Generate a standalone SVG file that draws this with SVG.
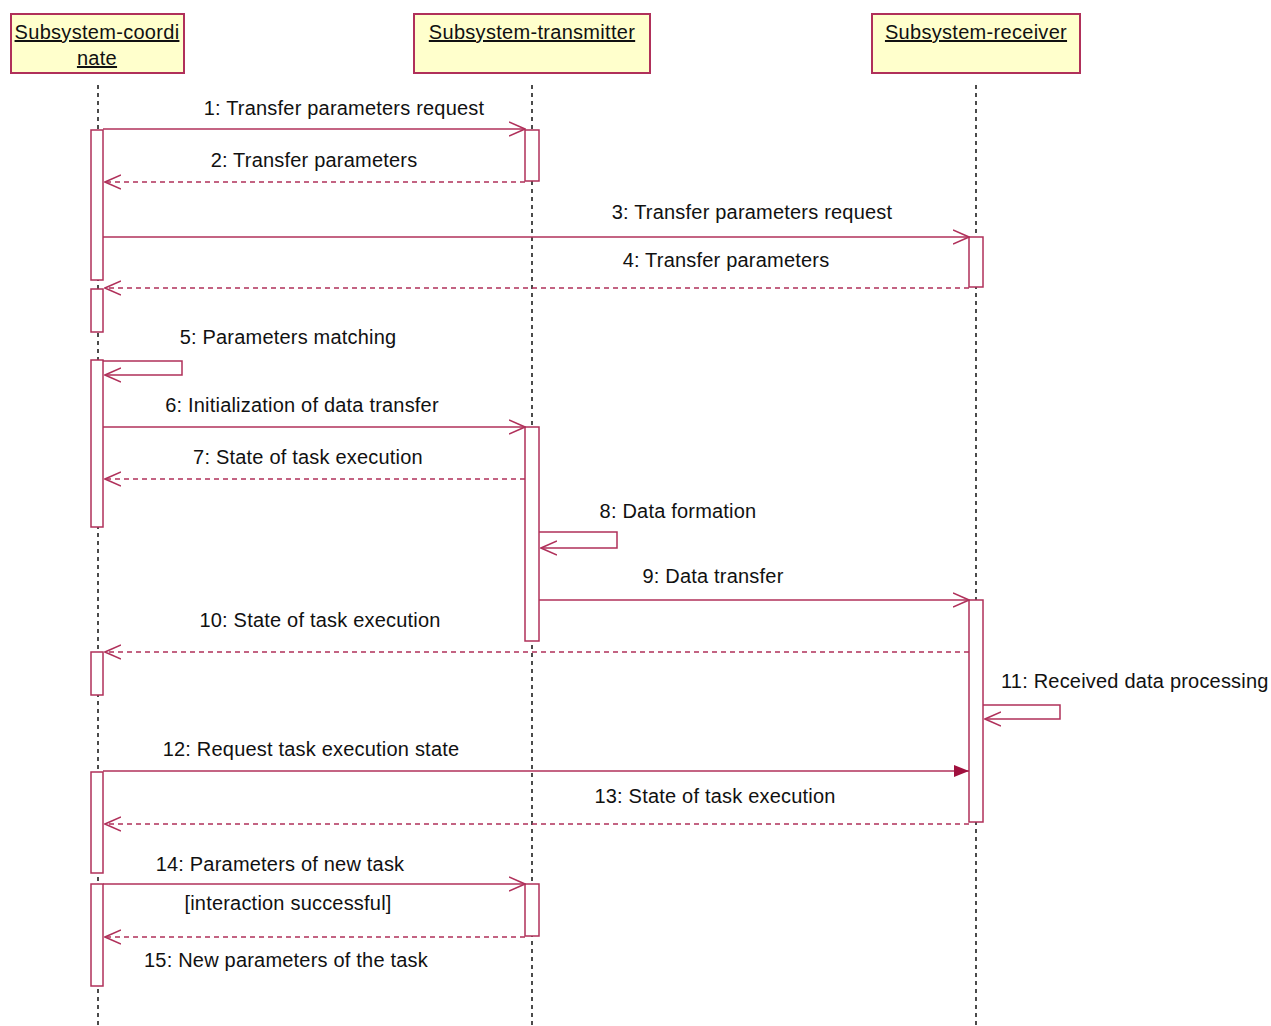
<svg xmlns="http://www.w3.org/2000/svg" width="1271" height="1026" viewBox="0 0 1271 1026">
<style>
.hdr{fill:#ffffcc;stroke:#b0305a;stroke-width:2}
.hname{font-family:"Liberation Sans",Arial,sans-serif;font-size:20px;fill:#111;text-decoration:underline;text-anchor:middle;letter-spacing:0.3px}
.life{stroke:#111;stroke-width:1.5;stroke-dasharray:4 4;fill:none}
.act{fill:#fff;stroke:#b0305a;stroke-width:1.5}
.msg{stroke:#b0305a;stroke-width:1.5;fill:none}
.ret{stroke:#b0305a;stroke-width:1.5;fill:none;stroke-dasharray:5 4}
.lbl{font-family:"Liberation Sans",Arial,sans-serif;font-size:20px;fill:#111;text-anchor:middle;letter-spacing:0.2px}
</style>
<defs>
<marker id="open" viewBox="0 0 17 16" refX="16" refY="8" markerWidth="17" markerHeight="16" markerUnits="userSpaceOnUse" orient="auto">
<path d="M0,1 L16,8 L0,15" fill="none" stroke="#b0305a" stroke-width="1.5" stroke-dasharray="none"/>
</marker>
<marker id="filled" viewBox="0 0 15 12" refX="15" refY="6" markerWidth="15" markerHeight="12" markerUnits="userSpaceOnUse" orient="auto">
<path d="M0,0 L15,6 L0,12 Z" fill="#a0103e" stroke="none"/>
</marker>
</defs>
<rect width="1271" height="1026" fill="#fff"/>

<g id="coordinate">
<line class="life" x1="98" y1="85" x2="98" y2="1026"/>
<rect class="hdr" x="11" y="14" width="173" height="59"/>
<text class="hname" x="97" y="39">Subsystem-coordi</text>
<text class="hname" x="97" y="65">nate</text>
<rect class="act" x="91" y="130" width="12" height="150"/>
<rect class="act" x="91" y="289" width="12" height="43"/>
<rect class="act" x="91" y="360" width="12" height="167"/>
<rect class="act" x="91" y="652" width="12" height="43"/>
<rect class="act" x="91" y="772" width="12" height="101"/>
<rect class="act" x="91" y="884" width="12" height="102"/>
</g>

<g id="transmitter">
<line class="life" x1="532" y1="85" x2="532" y2="1026"/>
<rect class="hdr" x="414" y="14" width="236" height="59"/>
<text class="hname" x="532" y="39">Subsystem-transmitter</text>
<rect class="act" x="525" y="130" width="14" height="51"/>
<rect class="act" x="525" y="427" width="14" height="214"/>
<rect class="act" x="525" y="884" width="14" height="52"/>
</g>

<g id="receiver">
<line class="life" x1="976" y1="85" x2="976" y2="1026"/>
<rect class="hdr" x="872" y="14" width="208" height="59"/>
<text class="hname" x="976" y="39">Subsystem-receiver</text>
<rect class="act" x="969" y="237" width="14" height="50"/>
<rect class="act" x="969" y="600" width="14" height="222"/>
</g>

<g id="connectors">
<line class="msg" x1="103" y1="129" x2="525" y2="129" marker-end="url(#open)"/>
<line class="ret" x1="525" y1="182" x2="105" y2="182" marker-end="url(#open)"/>
<line class="msg" x1="103" y1="237" x2="969" y2="237" marker-end="url(#open)"/>
<line class="ret" x1="969" y1="288" x2="105" y2="288" marker-end="url(#open)"/>
<polyline class="msg" points="103,361 182,361 182,375 105,375" marker-end="url(#open)"/>
<line class="msg" x1="103" y1="427" x2="525" y2="427" marker-end="url(#open)"/>
<line class="ret" x1="525" y1="479" x2="105" y2="479" marker-end="url(#open)"/>
<polyline class="msg" points="539,532 617,532 617,548 541,548" marker-end="url(#open)"/>
<line class="msg" x1="539" y1="600" x2="969" y2="600" marker-end="url(#open)"/>
<line class="ret" x1="969" y1="652" x2="105" y2="652" marker-end="url(#open)"/>
<polyline class="msg" points="983,705 1060,705 1060,719 985,719" marker-end="url(#open)"/>
<line class="msg" x1="103" y1="771" x2="969" y2="771" marker-end="url(#filled)"/>
<line class="ret" x1="969" y1="824" x2="105" y2="824" marker-end="url(#open)"/>
<line class="msg" x1="103" y1="884" x2="525" y2="884" marker-end="url(#open)"/>
<line class="ret" x1="525" y1="937" x2="105" y2="937" marker-end="url(#open)"/>
</g>

<g id="labels">
<text class="lbl" x="344" y="115">1: Transfer parameters request</text>
<text class="lbl" x="314" y="167">2: Transfer parameters</text>
<text class="lbl" x="752" y="219">3: Transfer parameters request</text>
<text class="lbl" x="726" y="267">4: Transfer parameters</text>
<text class="lbl" x="288" y="344">5: Parameters matching</text>
<text class="lbl" x="302" y="412">6: Initialization of data transfer</text>
<text class="lbl" x="308" y="464">7: State of task execution</text>
<text class="lbl" x="678" y="518">8: Data formation</text>
<text class="lbl" x="713" y="583">9: Data transfer</text>
<text class="lbl" x="320" y="627">10: State of task execution</text>
<text class="lbl" x="1001" y="688" style="text-anchor:start">11: Received data processing</text>
<text class="lbl" x="311" y="756">12: Request task execution state</text>
<text class="lbl" x="715" y="803">13: State of task execution</text>
<text class="lbl" x="280" y="871">14: Parameters of new task</text>
<text class="lbl" x="288" y="910">[interaction successful]</text>
<text class="lbl" x="286" y="967">15: New parameters of the task</text>
</g>
</svg>
